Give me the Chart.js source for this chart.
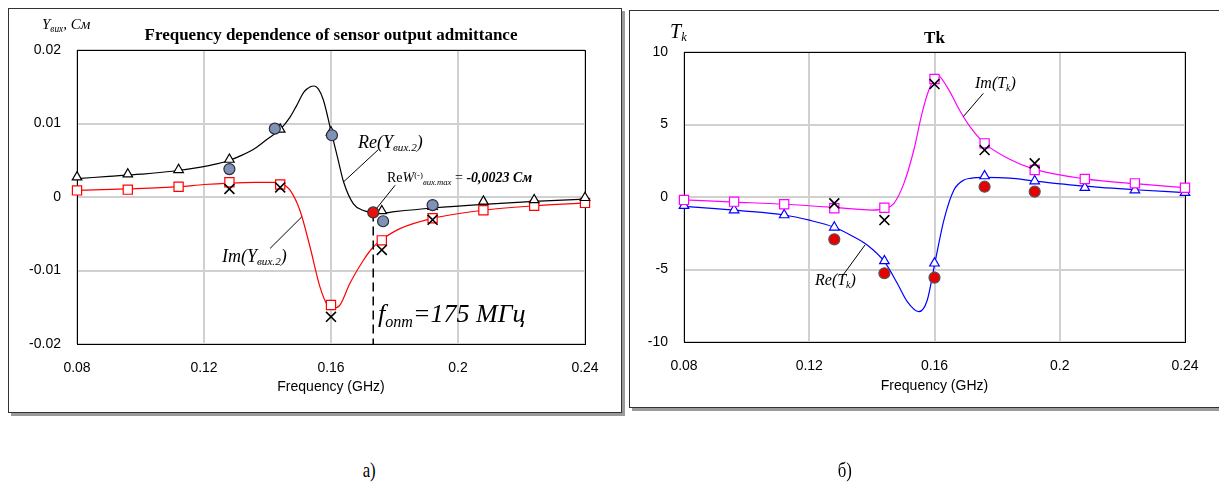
<!DOCTYPE html>
<html>
<head>
<meta charset="utf-8">
<script src="https://cdn.jsdelivr.net/npm/chart.js@4.4.0/dist/chart.umd.min.js"></script>
<style>
  body { margin: 0; width: 1219px; height: 490px; overflow: hidden; background: #fff; position: relative; }
  .panel { position: absolute; border: 1px solid #333; box-shadow: 3px 3px 0 #9a9a9a; background: #fff; }
  #panelA { left: 8px; top: 8px; width: 612px; height: 403px; }
  #panelB { left: 629px; top: 10px; width: 640px; height: 396px; }
  canvas { position: absolute; }
  #chartA { left: 8px; top: 8px; }
  #chartB { left: 629px; top: 10px; }
  .lbl { position: absolute; white-space: nowrap; font-family: "Liberation Serif", serif; font-style: italic; color: #000; line-height: 1; }
  .ttl { position: absolute; text-align: center; font-family: "Liberation Serif", serif; font-weight: bold; color: #000; line-height: 1; }
  .sb { font-size: 0.62em; vertical-align: -0.28em; }
  .sp { font-size: 0.62em; vertical-align: 0.5em; font-style: normal; }
  .cap { position: absolute; font-family: "Liberation Serif", serif; font-size: 21px; line-height: 1; transform: scaleX(0.8); }
</style>
</head>
<body>
<div class="panel" id="panelA"></div>
<div class="panel" id="panelB"></div>
<canvas id="chartA" width="614" height="405"></canvas>
<canvas id="chartB" width="590" height="398"></canvas>

<div class="lbl" style="left:42px;top:17px;font-size:15px;">Y<span class="sb">вих</span>, См</div>
<div class="ttl" style="left:77px;width:508px;top:26px;font-size:17px;">Frequency dependence of sensor output admittance</div>
<div class="lbl" style="left:358px;top:133px;font-size:18px;">Re(Y<span class="sb">вих.2</span>)</div>
<div class="lbl" style="left:387px;top:171px;font-size:14px;"><span style="font-style:normal">Re</span>W<span class="sp">(-)</span><span class="sb">вих.max</span><span style="font-style:normal"> = </span><b>-0,0023 См</b></div>
<div class="lbl" style="left:222px;top:247px;font-size:18px;">Im(Y<span class="sb">вих.2</span>)</div>
<div class="lbl" style="left:378px;top:301px;font-size:26px;">f<span class="sb">опт</span>=175 МГц</div>

<div class="lbl" style="left:670px;top:21px;font-size:20px;">T<span class="sb">k</span></div>
<div class="ttl" style="left:684px;width:501px;top:29px;font-size:17px;">Tk</div>
<div class="lbl" style="left:975px;top:75px;font-size:16px;">Im(T<span class="sb">k</span>)</div>
<div class="lbl" style="left:815px;top:272px;font-size:16px;">Re(T<span class="sb">k</span>)</div>

<div class="cap" style="left:361px;top:460px;">а)</div>
<div class="cap" style="left:836px;top:460px;">б)</div>

<script>
// ---- shared ticks ----
const xTicks = [0.08, 0.12, 0.16, 0.2, 0.24];
const xTickLabels = ["0.08", "0.12", "0.16", "0.2", "0.24"];
const yTicksA = [-0.02, -0.01, 0, 0.01, 0.02];
const yTickLabelsA = ["-0.02", "-0.01", "0", "0.01", "0.02"];
const yTicksB = [-10, -5, 0, 5, 10];
const yTickLabelsB = ["-10", "-5", "0", "5", "10"];

// ---- panel a: output admittance ----
// smooth model curves
const reCurveFreqA = [0.08, 0.09, 0.1, 0.11, 0.118, 0.124, 0.128, 0.132, 0.136, 0.14, 0.144, 0.147, 0.149, 0.1515, 0.1535, 0.1547, 0.156, 0.1576, 0.16, 0.162, 0.164, 0.167, 0.17, 0.1733, 0.176, 0.18, 0.192, 0.208, 0.224, 0.24];
const reCurveA = [0.0025, 0.0028, 0.0031, 0.0035, 0.004, 0.0045, 0.005, 0.0057, 0.0066, 0.0079, 0.0092, 0.0108, 0.0123, 0.0143, 0.015, 0.0151, 0.0147, 0.0132, 0.009, 0.0055, 0.002, -0.0009, -0.0018, -0.0021, -0.0022, -0.002, -0.0015, -0.001, -0.0006, -0.0003];
const imCurveFreqA = [0.08, 0.096, 0.112, 0.12, 0.128, 0.136, 0.142, 0.145, 0.147, 0.1502, 0.1534, 0.1565, 0.1586, 0.1607, 0.1628, 0.166, 0.1702, 0.1733, 0.176, 0.1817, 0.192, 0.208, 0.224, 0.24];
const imCurveA = [0.0009, 0.0011, 0.0014, 0.0017, 0.0019, 0.002, 0.002, 0.0017, 0.001, -0.0018, -0.0068, -0.0122, -0.0145, -0.0151, -0.0147, -0.0117, -0.0086, -0.0068, -0.0058, -0.0043, -0.0029, -0.0018, -0.0012, -0.0008];

// markers
const markerFreq = [0.08, 0.096, 0.112, 0.128, 0.144, 0.16, 0.176, 0.192, 0.208, 0.224, 0.24];
const reTriA = [0.0027, 0.0031, 0.0037, 0.0051, 0.0092, 0.0088, -0.0019, -0.0013, -0.0006, -0.0004, -0.0001];
const imSqA = [0.0009, 0.001, 0.0014, 0.002, 0.0017, -0.0147, -0.0059, -0.0029, -0.0018, -0.0012, -0.0008];
const dotFreqA = [0.128, 0.1423, 0.1603, 0.1764, 0.192];
const dotA = [0.0038, 0.0093, 0.0084, -0.0033, -0.0011];
const crossFreq = [0.128, 0.144, 0.16, 0.176, 0.192];
const crossA = [0.0011, 0.0013, -0.0163, -0.0072, -0.0031];
const optFreqA = [0.1733];
const optA = [-0.0021];

// ---- panel b: Tk ----
const imCurveFreqB = [0.08, 0.096, 0.112, 0.128, 0.136, 0.14, 0.144, 0.147, 0.1502, 0.1534, 0.156, 0.1582, 0.1609, 0.164, 0.1683, 0.1715, 0.176, 0.184, 0.192, 0.208, 0.224, 0.24];
const imCurveB = [-0.2, -0.35, -0.5, -0.72, -0.85, -0.9, -0.8, -0.45, 0.92, 3.24, 5.77, 7.38, 8.41, 7.6, 5.88, 4.8, 3.7, 2.6, 1.9, 1.25, 0.92, 0.64];
const reCurveFreqB = [0.08, 0.09, 0.098, 0.112, 0.12, 0.128, 0.1331, 0.1385, 0.144, 0.1481, 0.1513, 0.155, 0.1577, 0.1601, 0.163, 0.1662, 0.1694, 0.1715, 0.176, 0.184, 0.192, 0.208, 0.224, 0.24];
const reCurveB = [-0.65, -0.8, -0.94, -1.24, -1.6, -2.09, -2.62, -3.31, -4.46, -5.95, -7.22, -7.91, -7.1, -4.57, -1.59, 0.48, 1.17, 1.29, 1.35, 1.3, 1.1, 0.75, 0.5, 0.3];
const imSqB = [-0.2, -0.32, -0.5, -0.78, -0.74, 8.14, 3.7, 1.86, 1.24, 0.94, 0.64];
const reTriB = [-0.6, -0.9, -1.24, -2.09, -4.41, -4.57, 1.45, 1.1, 0.64, 0.48, 0.3];
const dotB = [-2.92, -5.26, -5.56, 0.71, 0.37];
const crossB = [-0.44, -1.59, 7.79, 3.24, 2.32];

// leader lines for the curve labels, [f, value] pairs
const leadersA = [
  [[0.1748, 0.0064], [0.1638, 0.002]],
  [[0.1802, 0.0016], [0.1739, -0.0018]],
  [[0.1408, -0.007], [0.1508, -0.0027]]
];
const leadersB = [
  [[0.1756, 7.15], [0.1692, 5.54]],
  [[0.1304, -5.5], [0.1378, -3.31]]
];

const pts = (xs, ys) => xs.map((x, i) => ({ x: x, y: ys[i] }));

const tickFont = { family: "'Liberation Sans', Arial, sans-serif", size: 14 };

// black frame around the plot area
const frame = {
  id: "frame",
  beforeDatasetsDraw(chart) {
    const { ctx, chartArea: a } = chart;
    ctx.save();
    ctx.strokeStyle = "#000";
    ctx.lineWidth = 1;
    ctx.strokeRect(Math.round(a.left) + 0.5, Math.round(a.top) + 0.5, Math.round(a.right - a.left), Math.round(a.bottom - a.top));
    ctx.restore();
  }
};

function curve(data, color) {
  return {
    data: data, borderColor: color, borderWidth: 1.2, pointRadius: 0,
    cubicInterpolationMode: "monotone", fill: false, order: 10, clip: false
  };
}
function marker(data, style, radius, fill, stroke, order, width) {
  return {
    data: data, showLine: false, pointStyle: style, pointRadius: radius,
    pointBackgroundColor: fill, pointBorderColor: stroke, pointBorderWidth: width || 1.2,
    order: order, clip: false
  };
}
function leader(pair) {
  return {
    data: pair.map(p => ({ x: p[0], y: p[1] })),
    borderColor: "#000", borderWidth: 1, pointRadius: 0, order: 9, clip: false
  };
}

function makeOptions(yTicks, yLabels, yMin, yMax, pad, yWidth, xHeight, titlePad) {
  return {
    responsive: false,
    animation: false,
    devicePixelRatio: 1,
    events: [],
    layout: { padding: pad },
    plugins: { legend: { display: false }, tooltip: { enabled: false } },
    scales: {
      x: {
        type: "linear", min: 0.08, max: 0.24,
        afterBuildTicks: s => { s.ticks = xTicks.map(v => ({ value: v })); },
        afterFit: s => { s.height = xHeight; s.paddingLeft = 0; s.paddingRight = 0; },
        ticks: {
          autoSkip: false, maxRotation: 0, padding: 16, color: "#000", font: tickFont,
          callback: (v, i) => xTickLabels[i]
        },
        grid: { color: "#d0d0d0", lineWidth: 2, drawTicks: false },
        border: { display: false },
        title: { display: true, text: "Frequency (GHz)", color: "#000", font: tickFont, padding: { top: 0, bottom: titlePad } }
      },
      y: {
        type: "linear", min: yMin, max: yMax,
        afterBuildTicks: s => { s.ticks = yTicks.map(v => ({ value: v })); },
        afterFit: s => { s.width = yWidth; s.paddingTop = 0; s.paddingBottom = 0; },
        ticks: {
          padding: 16, color: "#000", font: tickFont,
          callback: (v, i) => yLabels[i]
        },
        grid: { color: "#d0d0d0", lineWidth: 2, drawTicks: false },
        border: { display: false }
      }
    }
  };
}

new Chart(document.getElementById("chartA"), {
  type: "line",
  data: {
    datasets: [
      curve(pts(reCurveFreqA, reCurveA), "#000"),
      curve(pts(imCurveFreqA, imCurveA), "#ff0000"),
      {
        data: [{ x: optFreqA[0], y: optA[0] }, { x: optFreqA[0], y: yTicksA[0] }],
        borderColor: "#000", borderWidth: 1.5, borderDash: [9, 5], pointRadius: 0, order: 9, clip: false
      },
      ...leadersA.map(leader),
      marker(pts(markerFreq, reTriA), "triangle", 5.5, "#fff", "#000", 4),
      marker(pts(markerFreq, imSqA), "rect", 6.5, "#fff", "#ff0000", 4),
      marker(pts(dotFreqA, dotA), "circle", 5.5, "#7d92b4", "#2a2a3a", 3),
      marker(pts(optFreqA, optA), "circle", 5.5, "#e81010", "#333", 2),
      marker(pts(crossFreq, crossA), "crossRot", 7, "#000", "#000", 1, 1.6)
    ]
  },
  options: makeOptions(yTicksA, yTickLabelsA, -0.02, 0.02, { left: 0, right: 37, top: 42, bottom: 0 }, 69, 69, 17),
  plugins: [frame]
});

new Chart(document.getElementById("chartB"), {
  type: "line",
  data: {
    datasets: [
      curve(pts(imCurveFreqB, imCurveB), "#ff00ff"),
      curve(pts(reCurveFreqB, reCurveB), "#0000ff"),
      ...leadersB.map(leader),
      marker(pts(markerFreq, imSqB), "rect", 6.5, "#fff", "#ff00ff", 4),
      marker(pts(markerFreq, reTriB), "triangle", 5.5, "#fff", "#0000ff", 4),
      marker(pts(crossFreq, dotB), "circle", 5.5, "#e80000", "#555", 3),
      marker(pts(crossFreq, crossB), "crossRot", 7, "#000", "#000", 1, 1.6)
    ]
  },
  options: makeOptions(yTicksB, yTickLabelsB, -10, 10, { left: 0, right: 34, top: 42, bottom: 0 }, 55, 66, 13),
  plugins: [frame]
});
</script>
</body>
</html>
